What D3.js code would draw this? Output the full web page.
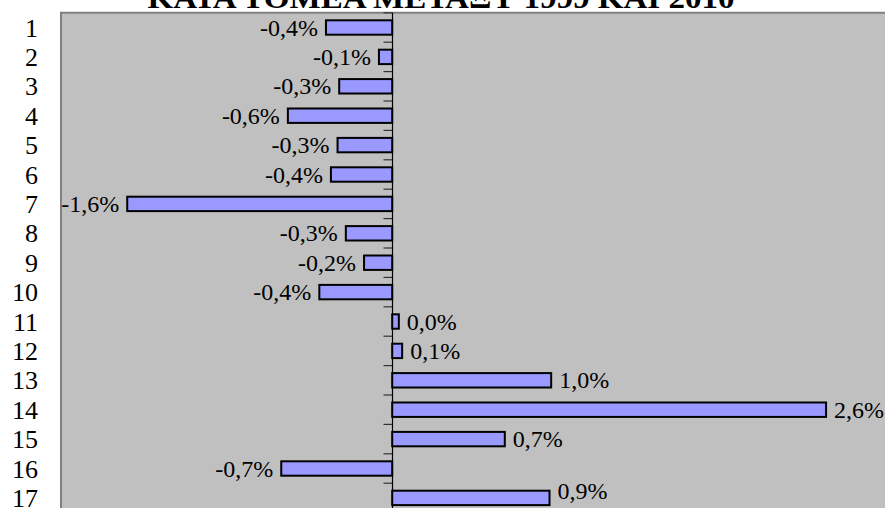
<!DOCTYPE html>
<html>
<head>
<meta charset="utf-8">
<script src="https://cdn.jsdelivr.net/npm/d3@7"></script>
<style>
  html, body { margin: 0; padding: 0; background: #ffffff; }
  svg { display: block; }
</style>
</head>
<body>
<svg id="chart" width="885" height="508"></svg>
<script>
const titleText = "ΚΑΤΑ ΤΟΜΕΑ ΜΕΤΑΞΥ 1999 ΚΑΙ 2010";
const categories = ["1","2","3","4","5","6","7","8","9","10","11","12","13","14","15","16","17"];
const values = [-0.40, -0.08, -0.32, -0.63, -0.33, -0.37, -1.60, -0.28, -0.17, -0.44, 0.04, 0.06, 0.96, 2.62, 0.68, -0.67, 0.95];
const valueLabels = ["-0,4%","-0,1%","-0,3%","-0,6%","-0,3%","-0,4%","-1,6%","-0,3%","-0,2%","-0,4%","0,0%","0,1%","1,0%","2,6%","0,7%","-0,7%","0,9%"];
const xDomain = [-2, 3];

const W = 885, H = 508;
const plot = { left: 61, top: 12.8, right: 889, bottom: 12.8 + 17 * 29.4 };

const svg = d3.select("#chart");

const x = d3.scaleLinear().domain(xDomain).range([plot.left, plot.right]);
const y = d3.scaleBand().domain(categories).range([plot.top, plot.bottom]).paddingInner(0.51).paddingOuter(0.255);
const yOuter = d3.scaleBand().domain(categories).range([plot.top, plot.bottom]);

// plot background
svg.append("rect")
  .attr("x", plot.left).attr("y", plot.top)
  .attr("width", plot.right - plot.left).attr("height", plot.bottom - plot.top)
  .attr("fill", "#c0c0c0");
// plot border (left & top visible)
svg.append("path")
  .attr("d", `M${plot.left},${plot.bottom}V${plot.top}H${plot.right}`)
  .attr("fill", "none").attr("stroke", "#808080").attr("stroke-width", 2);

// title
svg.append("text")
  .attr("x", 441).attr("y", 8)
  .attr("text-anchor", "middle")
  .attr("font-family", "'Liberation Serif', 'Times New Roman', serif")
  .attr("font-weight", "bold")
  .attr("font-size", 29)
  .attr("textLength", 587)
  .attr("lengthAdjust", "spacingAndGlyphs")
  .text(titleText);

// category labels
svg.append("g").selectAll("text").data(categories).join("text")
  .attr("x", 38)
  .attr("y", d => yOuter(d) + yOuter.bandwidth() / 2)
  .attr("dy", "0.35em")
  .attr("text-anchor", "end")
  .attr("font-family", "'Liberation Serif', 'Times New Roman', serif")
  .attr("font-size", 26)
  .attr("fill", "#000")
  .text(d => d);

// zero axis with tick marks between categories
const x0 = Math.round(x(0)) + 0.5;
const boundaries = categories.map(c => yOuter(c)).concat([plot.bottom]);
svg.append("g").selectAll("line").data(boundaries).join("line")
  .attr("x1", x0 - 9).attr("x2", x0)
  .attr("y1", d => d).attr("y2", d => d)
  .attr("stroke", "#333").attr("stroke-width", 1.2);
svg.append("line")
  .attr("x1", x0).attr("x2", x0)
  .attr("y1", plot.top).attr("y2", plot.bottom)
  .attr("stroke", "#000").attr("stroke-width", 1.2);

// bars
svg.append("g").selectAll("rect").data(values).join("rect")
  .attr("x", d => x(Math.min(0, d)))
  .attr("y", (d, i) => y(categories[i]))
  .attr("width", d => Math.abs(x(d) - x(0)))
  .attr("height", y.bandwidth())
  .attr("fill", "#9999ff")
  .attr("stroke", "#000")
  .attr("stroke-width", 2);

// value labels
const labelFont = 24;
svg.append("g").selectAll("text").data(values).join("text")
  .attr("x", d => d < 0 ? x(d) - 8 : x(d) + 8)
  .attr("y", (d, i) => Math.min(y(categories[i]) + y.bandwidth() / 2 + 8, 499))
  .attr("text-anchor", d => d < 0 ? "end" : "start")
  .attr("font-family", "'Liberation Serif', 'Times New Roman', serif")
  .attr("font-size", labelFont)
  .attr("fill", "#000")
  .text((d, i) => valueLabels[i]);
</script>
</body>
</html>
